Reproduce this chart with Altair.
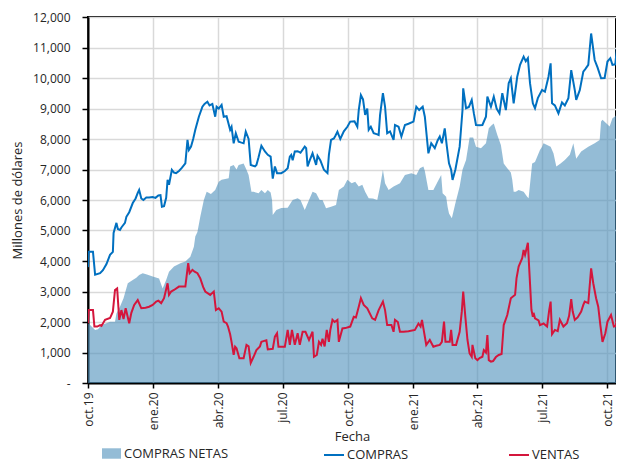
import altair as alt
import pandas as pd

INICIO = "2019-10-01"

# Readings: day offset from 2019-10-01 and value (millones de dólares)
dias_compras = [0, 1, 7, 10, 17, 21, 26, 31, 35, 36, 40, 42, 45, 47, 52, 54, 58, 63, 67, 70,
                72, 75, 78, 82, 86, 91, 95, 99, 102, 104, 107, 110, 112, 114, 118, 121, 124, 128, 132, 137,
                140, 142, 145, 148, 151, 156, 161, 164, 168, 171, 175, 179, 181, 184, 188, 191, 195, 200, 202, 205,
                208, 212, 216, 219, 222, 226, 229, 235, 237, 240, 244, 249, 253, 257, 260, 263, 266, 272, 277, 281,
                284, 286, 288, 291, 295, 299, 305, 307, 309, 312, 316, 321, 323, 327, 332, 337, 339, 342, 346, 348,
                351, 355, 360, 365, 369, 375, 379, 381, 384, 387, 390, 393, 395, 398, 402, 407, 409, 411, 415, 418,
                421, 425, 430, 432, 437, 441, 446, 451, 458, 462, 466, 471, 474, 479, 483, 488, 492, 495, 498, 502,
                505, 508, 511, 513, 517, 523, 527, 528, 532, 536, 540, 543, 546, 551, 555, 560, 562, 567, 571, 575,
                579, 583, 588, 592, 595, 599, 604, 608, 613, 616, 619, 622, 626, 629, 633, 639, 643, 648, 651, 653,
                657, 662, 667, 671, 676, 680, 685, 687, 692, 697, 700, 704, 708, 713, 717, 722, 727, 731, 735, 738,
                742, 745, 747]
compras = [3800, 4300, 4300, 3550, 3600, 3700, 3900, 4200, 4300, 4920, 5250, 5050, 5020, 5100, 5250, 5450, 5600, 5900, 6050, 6230,
           6330, 6050, 6000, 6080, 6080, 6100, 6070, 6150, 6160, 5780, 5800, 6070, 6660, 6500, 6990, 6900, 6880, 6950, 7050, 7200,
           7970, 7640, 7750, 8000, 8300, 8730, 9060, 9150, 9220, 9100, 9150, 8730, 9060, 9000, 9120, 8730, 8750, 8300, 8400, 7860,
           8190, 7910, 7880, 7860, 8240, 8000, 7150, 7100, 7150, 7400, 7780, 7590, 7480, 7420, 6700, 7100, 6880, 6880, 6950, 7040,
           7420, 7480, 7300, 7590, 7600, 7550, 7750, 7700, 7100, 7300, 7530, 7150, 7450, 7300, 6990, 6880, 7480, 7970, 8020, 8100,
           8240, 8000, 8250, 8400, 8570, 8580, 8400, 8950, 9440, 9300, 8790, 9000, 8300, 8400, 8190, 8150, 8130, 8790, 9500, 9060,
           8190, 8250, 7970, 8460, 8400, 8080, 8460, 8500, 8570, 9060, 8950, 9060, 8730, 7530, 7860, 7700, 7950, 8080, 7860, 8350,
           7750, 7200, 6990, 6660, 7000, 7750, 8950, 9660, 9010, 9050, 9280, 8840, 8460, 8450, 8460, 8730, 9390, 9060, 9390, 9000,
           8840, 9500, 8950, 9830, 9990, 9170, 10040, 10430, 10700, 10550, 10650, 9830, 9170, 9010, 9340, 9610, 9550, 10040, 10480, 9170,
           9100, 8840, 9200, 9100, 9340, 10260, 9600, 9280, 9600, 10210, 10300, 10430, 11460, 10590, 10350, 9990, 10000, 10540, 10650, 10430,
           10450, 11140, 11200]

dias_ventas = [0, 1, 7, 9, 13, 17, 19, 24, 31, 35, 38, 41, 44, 47, 50, 53, 58, 61, 65, 70,
               75, 81, 86, 91, 96, 99, 103, 107, 112, 114, 117, 121, 128, 137, 141, 143, 147, 150, 154, 158,
               162, 165, 172, 177, 180, 184, 188, 191, 195, 197, 200, 202, 205, 207, 209, 213, 219, 223, 226, 229,
               233, 237, 242, 244, 248, 251, 253, 260, 263, 266, 268, 277, 281, 284, 287, 291, 295, 298, 302, 306,
               311, 316, 318, 322, 325, 328, 330, 333, 336, 339, 341, 344, 347, 351, 353, 358, 362, 369, 374, 377,
               381, 384, 388, 393, 400, 404, 409, 415, 418, 421, 427, 430, 432, 436, 439, 444, 451, 460, 465, 468,
               470, 472, 476, 481, 486, 490, 495, 498, 501, 503, 509, 511, 513, 518, 523, 526, 528, 531, 534, 537,
               540, 541, 545, 548, 551, 555, 557, 560, 562, 564, 567, 570, 574, 578, 582, 585, 590, 595, 601, 603,
               606, 611, 613, 615, 619, 621, 624, 626, 627, 629, 634, 636, 641, 646, 649, 651, 653, 657, 661, 664,
               669, 674, 677, 680, 682, 685, 689, 694, 697, 699, 704, 708, 711, 715, 718, 721, 724, 728, 731, 736,
               740, 743, 745, 747]
ventas = [1960, 2390, 2390, 1850, 1850, 1900, 1870, 2070, 2130, 2340, 3050, 3100, 2070, 2390, 2100, 2450, 1960, 2300, 2560, 2720,
          2450, 2470, 2500, 2560, 2670, 2700, 2620, 2780, 3270, 2890, 3000, 3050, 3160, 3160, 3930, 3600, 3710, 3650, 3600, 3430,
          3150, 3000, 2890, 3000, 2390, 2450, 2340, 2010, 1960, 1850, 1600, 1350, 920, 1190, 1140, 810, 810, 1250, 1200, 660,
          860, 1080, 1200, 1350, 1380, 1400, 1100, 1120, 1520, 1630, 1190, 1190, 1740, 1250, 1740, 1250, 1630, 1250, 1680, 1680,
          1410, 1680, 860, 920, 1350, 1250, 1450, 1200, 1740, 1350, 1740, 2070, 2000, 2070, 1350, 1790, 1800, 1850, 2170, 2150,
          2500, 2780, 2560, 2450, 2120, 2070, 2390, 2670, 2390, 1900, 1900, 1680, 2070, 2000, 1680, 1680, 1700, 1740, 1950, 1850,
          2070, 1790, 1250, 1410, 1190, 1220, 1250, 1350, 2010, 1350, 1350, 1740, 1250, 1250, 1680, 2340, 3000, 2170, 1410, 970,
          860, 1250, 810, 750, 820, 860, 1080, 1000, 1570, 750, 700, 720, 850, 920, 950, 1900, 2230, 2780, 2890, 3430,
          3820, 4090, 4360, 4200, 4600, 3700, 2400, 2170, 2300, 2120, 2050, 1900, 1950, 1850, 2390, 2670, 1600, 1740, 1700, 2070,
          1850, 1960, 2200, 2750, 2350, 2070, 2150, 2340, 2560, 2670, 2620, 3760, 3270, 2780, 2500, 1900, 1350, 1630, 2010, 2230,
          1850, 1870, 2450, 2450]

dias_netas = [0, 3, 10, 14, 19, 25, 31, 38, 40, 45, 50, 56, 63, 68, 72, 77, 84, 91, 100, 105,
              110, 114, 121, 130, 137, 144, 149, 151, 154, 158, 163, 167, 173, 179, 184, 188, 198, 200, 205, 209,
              212, 219, 223, 226, 230, 233, 240, 244, 249, 253, 257, 259, 260, 265, 272, 281, 288, 295, 299, 305,
              311, 316, 321, 326, 330, 335, 342, 349, 353, 360, 365, 371, 376, 381, 386, 390, 395, 401, 407, 411,
              415, 418, 423, 430, 439, 446, 455, 462, 467, 472, 474, 479, 486, 492, 497, 499, 504, 506, 508, 512,
              517, 523, 527, 532, 537, 542, 546, 553, 560, 564, 568, 571, 576, 581, 585, 590, 595, 597, 599, 602,
              606, 613, 618, 620, 625, 629, 636, 639, 641, 651, 655, 659, 665, 671, 678, 683, 687, 694, 704, 713,
              720, 722, 724, 730, 734, 738, 742, 745, 747]
netas = [1960, 1900, 1740, 1760, 1900, 1950, 2010, 2010, 2280, 2500, 2780, 3270, 3380, 3450, 3540, 3600, 3550, 3490, 3430, 3100,
         3380, 3650, 3820, 3930, 3980, 4140, 4470, 4800, 4950, 5450, 6000, 6270, 6200, 6330, 6600, 6660, 6710, 7100, 7150, 7000,
         7150, 7200, 6990, 6820, 6270, 6270, 6220, 6330, 6220, 6330, 6250, 6000, 5510, 5670, 5740, 5750, 6000, 6060, 6000, 5670,
         6000, 6270, 6220, 6000, 6000, 5730, 5780, 5840, 6330, 6440, 6660, 6550, 6600, 6440, 6500, 6270, 6060, 6050, 6000, 6440,
         6990, 6550, 6330, 6440, 6550, 6820, 6880, 6820, 7040, 7100, 6950, 6330, 6330, 6600, 6820, 6220, 6110, 5780, 5560, 5400,
         5890, 6440, 6990, 7310, 8050, 8050, 7750, 7700, 7860, 8350, 8450, 8510, 8130, 7800, 7200, 7040, 6900, 6660, 6270, 6270,
         6330, 6270, 6110, 6060, 7200, 7250, 7640, 7750, 7860, 7750, 7530, 7100, 7200, 7310, 7480, 7860, 7350, 7590, 7750, 7860,
         7970, 8570, 8630, 8500, 8410, 8680, 8750, 8840, 8880]

series = ["COMPRAS NETAS", "COMPRAS", "VENTAS"]
colores = ["#4d90bb", "#0070c0", "#d4163c"]


def fechas(dias):
    return (pd.Timestamp(INICIO) + pd.to_timedelta(dias, unit="D")).strftime("%Y-%m-%d")


df_net = pd.DataFrame({"Fecha": fechas(dias_netas), "valor": netas, "serie": series[0]})
df_lines = pd.concat([
    pd.DataFrame({"Fecha": fechas(dias_compras), "valor": compras, "serie": series[1]}),
    pd.DataFrame({"Fecha": fechas(dias_ventas), "valor": ventas, "serie": series[2]}),
])

tick_dates = [alt.DateTime(year=y, month=m, date=1, utc=True)
              for y, m in [(2019, 10), (2020, 1), (2020, 4), (2020, 7), (2020, 10),
                           (2021, 1), (2021, 4), (2021, 7), (2021, 10)]]

month_expr = ("['ene','feb','mar','abr','may','jun','jul','ago','sep','oct','nov','dic']"
              "[utcmonth(datum.value)] + '.' + utcFormat(datum.value, '%y')")

x_enc = alt.X("Fecha:T",
              scale=alt.Scale(type="utc",
                              domain=[alt.DateTime(year=2019, month=10, date=1, utc=True),
                                      alt.DateTime(year=2021, month=10, date=13, utc=True)]),
              axis=alt.Axis(values=tick_dates, labelExpr=month_expr, labelAngle=270,
                            labelPadding=4, tickSize=5, title="Fecha", titlePadding=1))
y_enc = alt.Y("valor:Q",
              scale=alt.Scale(domain=[0, 12000]),
              axis=alt.Axis(values=list(range(0, 12001, 1000)),
                            labelExpr="datum.value == 0 ? '-' : format(datum.value, ',')",
                            tickSize=6, labelPadding=12, title="Millones de dólares",
                            titlePadding=8))

area = alt.Chart(df_net).mark_area(opacity=0.6, clip=True).encode(
    x=x_enc, y=y_enc,
    fill=alt.Fill("serie:N", scale=alt.Scale(domain=[series[0]], range=[colores[0]]),
                  legend=alt.Legend(title=None, orient="none", legendX=14, legendY=427,
                                    direction="horizontal", padding=0,
                                    symbolType="M-1,-0.55H1V0.55H-1Z", symbolSize=361,
                                    symbolStrokeWidth=0, labelOffset=3,
                                    labelFontSize=13, labelFont="Open Sans",
                                    labelColor="#262626")),
)

lines = alt.Chart(df_lines).mark_line(strokeWidth=2, clip=True).encode(
    x=x_enc, y=y_enc,
    stroke=alt.Stroke("serie:N", scale=alt.Scale(domain=series[1:], range=colores[1:]),
                      legend=alt.Legend(title=None, orient="none", legendX=235, legendY=427,
                                        direction="horizontal", columns=2, columnPadding=96,
                                        padding=0, symbolType="stroke", symbolSize=400,
                                        symbolStrokeWidth=2, labelOffset=2,
                                        labelFontSize=13, labelFont="Open Sans",
                                        labelColor="#262626")),
)

chart = alt.layer(area, lines).properties(
    width=528, height=366,
    padding={"left": 80, "top": 9, "right": 0, "bottom": 81},
    autosize=alt.AutoSizeParams(type="none"),
).configure_view(
    stroke="black", strokeWidth=2,
).configure_axis(
    labelFont="Open Sans", labelFontSize=12, labelColor="#262626",
    titleFont="Open Sans", titleFontSize=13, titleColor="#262626", titleFontWeight="normal",
    gridColor="#d9d9d9", gridWidth=1.5,
    domainColor="black", domainWidth=2,
    tickColor="black", tickWidth=1.5,
)

chart.save("out.html", embed_options={"renderer": "svg", "actions": False})
